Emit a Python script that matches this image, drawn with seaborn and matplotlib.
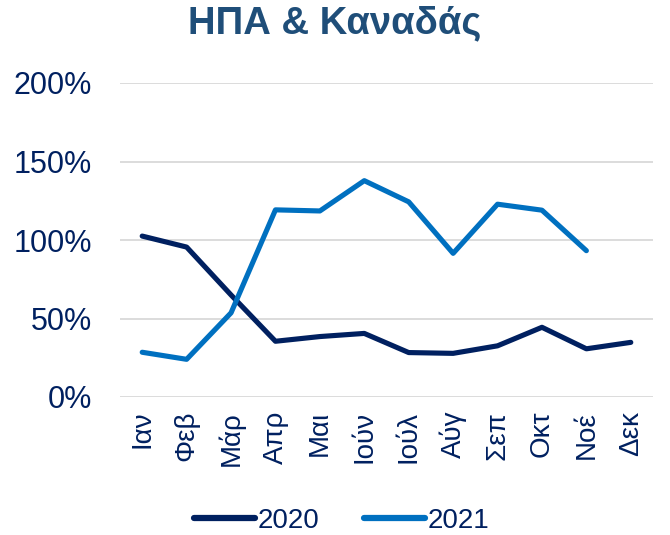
import numpy as np
import pandas as pd
import matplotlib.pyplot as plt
import seaborn as sns

# Monthly values (%)
months = ['Ιαν', 'Φεβ', 'Μάρ', 'Απρ', 'Μαι', 'Ιούν', 'Ιούλ', 'Αύγ', 'Σεπ', 'Οκτ', 'Νοέ', 'Δεκ']
y2020 = [102.5, 95.5, 65, 35.5, 38.5, 40.5, 28.3, 27.8, 32.6, 44.4, 30.7, 34.8]
y2021 = [28.5, 24, 53.6, 119.2, 118.5, 137.8, 124.3, 91.5, 122.8, 119, 93.2, np.nan]

navy = '#002060'
blue = '#0070C0'
text_col = '#002060'

df = pd.DataFrame({
    'Month': months * 2,
    'Value': y2020 + y2021,
    'Year': ['2020'] * len(months) + ['2021'] * len(months),
})
df['x'] = list(range(len(months))) * 2
df = df.dropna()

sns.set_style('white')
plt.rcParams['font.family'] = ['Liberation Sans', 'DejaVu Sans']

fig = plt.figure(figsize=(6.7, 5.35), dpi=100)
ax = fig.add_axes([120 / 670, 1 - 397 / 535, 533 / 670, 314 / 535])

sns.lineplot(data=df, x='x', y='Value', hue='Year', palette=[navy, blue],
             linewidth=3.7, ax=ax, legend=True)

ax.set_xlim(-0.5, len(months) - 0.5)
ax.set_ylim(0, 200)
ax.set_yticks([0, 50, 100, 150, 200])
ax.set_yticklabels([f'{v}%' for v in [0, 50, 100, 150, 200]],
                   fontsize=22, color=text_col)
ax.set_xticks(range(len(months)))
ax.set_xticklabels(months, rotation=90, fontsize=20, color=text_col)
ax.tick_params(axis='both', length=0)
ax.tick_params(axis='y', pad=20)
ax.tick_params(axis='x', pad=10)
ax.yaxis.grid(True, color='#D9D9D9', linewidth=1.3)
ax.set_axisbelow(True)
for s in ax.spines.values():
    s.set_visible(False)
ax.set_xlabel('')
ax.set_ylabel('')

fig.suptitle('ΗΠΑ & Καναδάς', fontsize=27.5, fontweight='bold', color='#1F4E79',
             x=0.5, y=0.99)

handles, labels = ax.get_legend_handles_labels()
ax.get_legend().remove()
leg = fig.legend(handles, labels, loc='center', bbox_to_anchor=(342 / 670, 1 - 521 / 535),
                 ncol=2, frameon=False, fontsize=20, handlelength=2.2,
                 columnspacing=1.6, handletextpad=0.1)
for t in leg.get_texts():
    t.set_color(text_col)
for h in leg.get_lines():
    h.set_linewidth(4.5)

fig.savefig('out.png', dpi=100)
